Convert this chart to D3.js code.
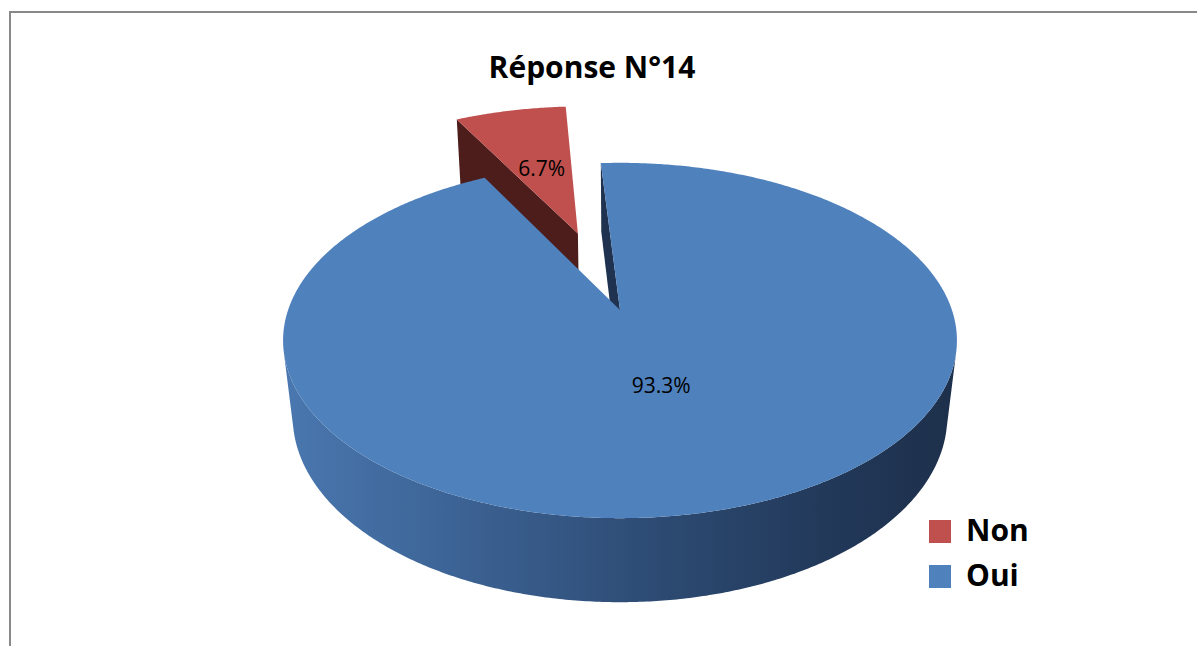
<!DOCTYPE html>
<html lang="fr">
<head>
  <meta charset="UTF-8" />
  <title>Réponse N°14</title>
  <style>
    html, body { margin: 0; padding: 0; background: #fff; }
    svg { display: block; font-family: "Open Sans", sans-serif; }
    .title { font-size: 30px; font-weight: bold; fill: #000; text-anchor: middle; }
    .slice-label { font-size: 21px; fill: #000; text-anchor: middle; }
    .legend text { font-size: 30px; font-weight: bold; fill: #000; }
  </style>
</head>
<body>
  <svg width="1197" height="646"></svg>
  <script src="https://d3js.org/d3.v7.min.js"></script>
  <script>
    const categories = ["Non", "Oui"];
    const shares = [6.7, 93.3];
    const labels = ["6.7%", "93.3%"];
    const title = "Réponse N°14";

    const topColor = { Non: "#c0504d", Oui: "#4f81bd" };
    const sideColor = { Non: "#4d1d1b", Oui: "#1f3350" };
    const explode = { Non: 0.5, Oui: 0 };

    const svg = d3.select("svg");
    const width = 1197, height = 646;

    // simple perspective camera looking down at the pie
    const view = { cx: 620, cy: 310, f: 1653, dist: 4.98, elev: 31.3 * Math.PI / 180, depth: 0.275 };
    const sE = Math.sin(view.elev), cE = Math.cos(view.elev);
    const cam = [0, view.dist * sE, view.dist * cE];

    function project(x, y, z) {
      const v = y * cE - z * sE;
      const w = view.dist - (y * sE + z * cE);
      return [view.cx + view.f * x / w, view.cy - view.f * v / w];
    }

    const rot = 332 * Math.PI / 180; // rotation of first slice
    const pie = d3.pie().sort(null).value(d => d).startAngle(rot).endAngle(rot + 2 * Math.PI);
    const arcs = pie(shares).map((a, i) => {
      const name = categories[i];
      const mid = (a.startAngle + a.endAngle) / 2;
      const e = explode[name];
      return { ...a, name, label: labels[i], ox: e * Math.sin(mid), oz: -e * Math.cos(mid) };
    });

    const rim = (d, a, y) => project(d.ox + Math.sin(a), y, d.oz - Math.cos(a));
    const line = d3.line();
    const step = Math.PI / 360;

    function angles(a0, a1) {
      const n = Math.max(2, Math.ceil((a1 - a0) / step));
      return d3.range(n + 1).map(k => a0 + (a1 - a0) * k / n);
    }

    // outer wall: keep only parts facing the camera
    function wallRuns(d) {
      const runs = [];
      let cur = [];
      angles(d.startAngle, d.endAngle).forEach(a => {
        const px = d.ox + Math.sin(a), pz = d.oz - Math.cos(a);
        const dot = Math.sin(a) * (cam[0] - px) - Math.cos(a) * (cam[2] - pz);
        if (dot > 0) cur.push(a);
        else if (cur.length) { runs.push(cur); cur = []; }
      });
      if (cur.length) runs.push(cur);
      return runs.filter(r => r.length > 1);
    }

    function radialFaces(d) {
      const faces = [];
      [[d.startAngle, -1], [d.endAngle, 1]].forEach(([a, sg]) => {
        const nx = sg * Math.cos(a), nz = sg * Math.sin(a);
        const dot = nx * (cam[0] - d.ox) + nz * (cam[2] - d.oz);
        if (dot > 0) {
          faces.push([
            project(d.ox, 0, d.oz), rim(d, a, 0),
            rim(d, a, -view.depth), project(d.ox, -view.depth, d.oz)
          ]);
        }
      });
      return faces;
    }

    // gradient for the blue wall
    const left = project(-1, 0, 0)[0] - 10, right = project(1, 0, 0)[0] + 10;
    const grad = svg.append("defs").append("linearGradient")
      .attr("id", "wallOui")
      .attr("gradientUnits", "userSpaceOnUse")
      .attr("x1", left).attr("x2", right).attr("y1", 0).attr("y2", 0);
    [[0, "#4a78b0"], [0.25, "#3d6496"], [0.55, "#2d4b73"], [0.8, "#22395a"], [1, "#1d2f4a"]]
      .forEach(([o, c]) => grad.append("stop").attr("offset", o).attr("stop-color", c));

    // frame
    svg.append("path")
      .attr("d", `M10,${height + 5} L10,12 L${width + 5},12`)
      .attr("fill", "none").attr("stroke", "#898989").attr("stroke-width", 2);

    svg.append("text").attr("class", "title")
      .attr("x", 592).attr("y", 78).text(title);

    // draw back slice first
    const order = arcs.slice().sort((a, b) => (a.oz - b.oz));
    const g = svg.append("g");
    order.forEach(d => {
      const sg = g.append("g").attr("class", "slice");
      wallRuns(d).forEach(run => {
        const pts = run.map(a => rim(d, a, 0))
          .concat(run.slice().reverse().map(a => rim(d, a, -view.depth)));
        sg.append("path").attr("d", line(pts) + "Z")
          .attr("fill", d.name === "Oui" ? "url(#wallOui)" : sideColor[d.name]);
      });
      radialFaces(d).forEach(f => {
        sg.append("path").attr("d", line(f) + "Z").attr("fill", sideColor[d.name]);
      });
      const topPts = [project(d.ox, 0, d.oz)].concat(angles(d.startAngle, d.endAngle).map(a => rim(d, a, 0)));
      sg.append("path").attr("d", line(topPts) + "Z").attr("fill", topColor[d.name]);
    });

    // value labels
    const labelR = { Non: 0.5, Oui: 0.42 };
    arcs.forEach(d => {
      const mid = (d.startAngle + d.endAngle) / 2;
      const r = labelR[d.name];
      const p = project(d.ox + r * Math.sin(mid), 0, d.oz - r * Math.cos(mid));
      svg.append("text").attr("class", "slice-label")
        .attr("x", p[0]).attr("y", p[1] + 8).text(d.label);
    });

    // legend
    const legend = svg.append("g").attr("class", "legend").attr("transform", "translate(929,520)");
    const item = legend.selectAll("g").data(categories).join("g")
      .attr("transform", (d, i) => `translate(0,${i * 45})`);
    item.append("rect").attr("width", 22).attr("height", 23).attr("fill", d => topColor[d]);
    item.append("text").attr("x", 37).attr("y", 21).text(d => d);
  </script>
</body>
</html>
